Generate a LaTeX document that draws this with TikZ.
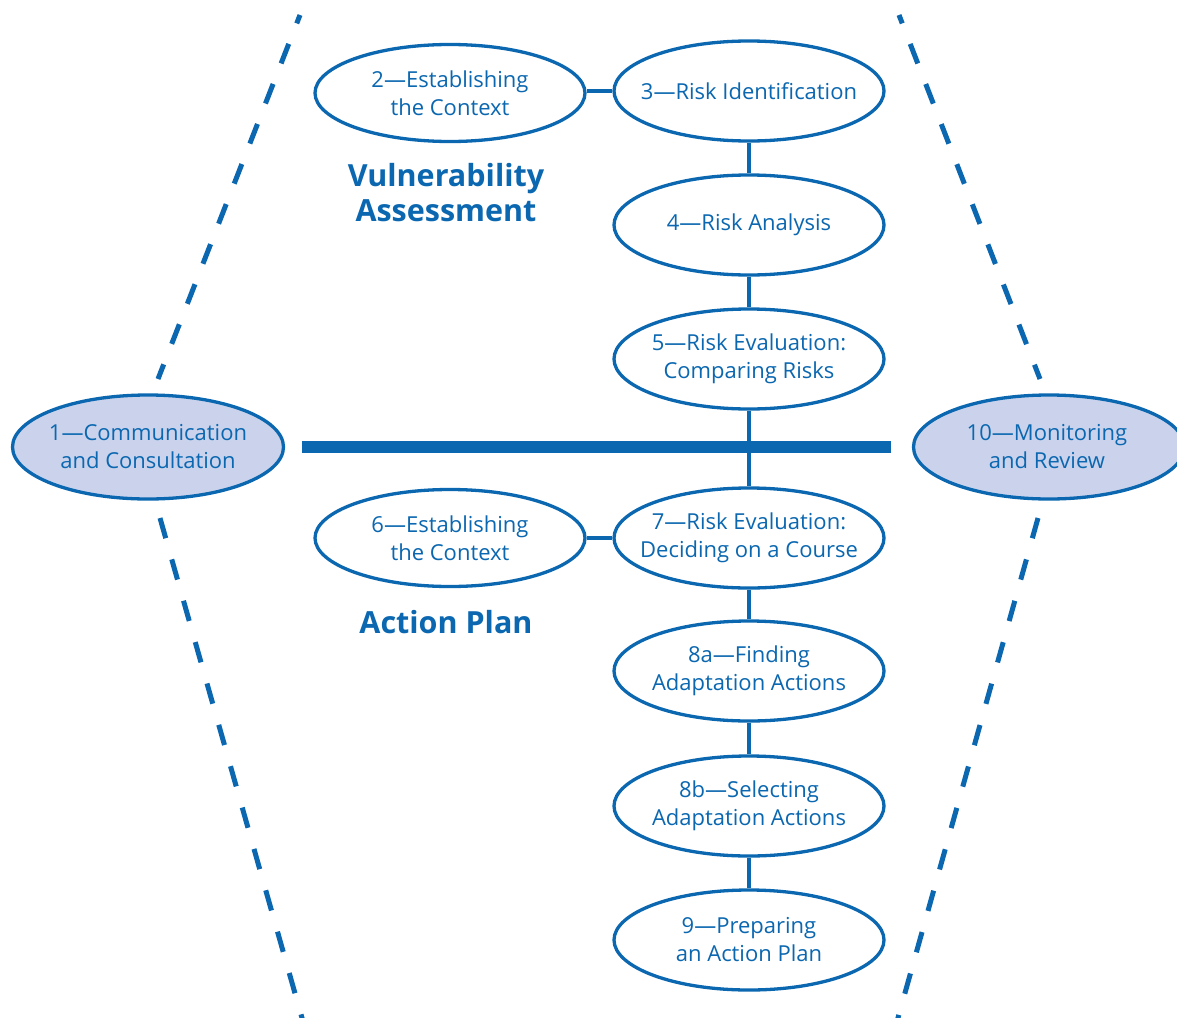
\documentclass[tikz,border=0pt]{standalone}
\usepackage{fontspec}
\setmainfont{Open Sans}
\usetikzlibrary{shapes.geometric}
\definecolor{cblue}{HTML}{0A67B0}
\definecolor{clav}{HTML}{CBD3EC}
\tikzset{
  stepell/.style={ellipse, draw=cblue, line width=3.3pt, fill=white,
    minimum width=270, minimum height=100, inner sep=0pt},
  keyell/.style={stepell, fill=clav},
  txt/.style={text=cblue, font=\fontsize{22}{28}\selectfont, align=center, inner sep=0pt},
  ttl/.style={text=cblue, font=\bfseries\fontsize{30.5}{35}\selectfont, align=center, inner sep=0pt},
  link/.style={draw=cblue, line width=3.3pt},
  bar/.style={draw=cblue, line width=12pt},
  dashln/.style={draw=cblue, line width=5pt, dash pattern=on 21pt off 22pt},
}
\begin{document}
\begin{tikzpicture}[x=1pt,y=-1pt]
\useasboundingbox (0,0) rectangle (1177,1017);
\clip (0,0) rectangle (1177,1017);
% dashed boundaries
\coordinate (lt) at (300,15);
\coordinate (lm1) at (158,379);
\coordinate (lm2) at (160,518);
\coordinate (lb) at (304,1025);
\coordinate (rt) at (899,15);
\coordinate (rm1) at (1040,379);
\coordinate (rm2) at (1038,518);
\coordinate (rb) at (896,1025);
\draw[dashln, dash phase=12pt] (lt) -- (lm1);
\draw[dashln] (lm2) -- (lb);
\draw[dashln, dash phase=12pt] (rt) -- (rm1);
\draw[dashln] (rm2) -- (rb);
% bar
\coordinate (barL) at (302,447);
\coordinate (barR) at (891,447);
\draw[bar] (barL) -- (barR);
% nodes
\node[stepell, minimum height=97] (e2) at (450,93) {};
\node[txt] at (e2) {2—Establishing\\the Context};
\node[stepell] (e3) at (749,91) {};
\node[txt] at (e3) {3—Risk Identification};
\node[stepell] (e4) at (749,225) {};
\node[txt] at (e4) {4—Risk Analysis};
\node[stepell] (e5) at (749,359) {};
\node[txt] at (e5) {5—Risk Evaluation:\\Comparing Risks};
\node[keyell, minimum width=271, minimum height=104] (e1) at (148,447) {};
\node[txt] at (e1) {1—Communication\\and Consultation};
\node[keyell, minimum width=271, minimum height=104] (e10) at (1049,447) {};
\node[txt] at (1047,447) {10—Monitoring\\and Review};
\node[stepell, minimum height=97] (e6) at (450,538) {};
\node[txt] at (e6) {6—Establishing\\the Context};
\node[stepell] (e7) at (749,538) {};
\node[txt] at (e7) {7—Risk Evaluation:\\Deciding on a Course};
\node[stepell] (e8a) at (749,671) {};
\node[txt] at (e8a) {8a—Finding\\Adaptation Actions};
\node[stepell] (e8b) at (749,806) {};
\node[txt] at (e8b) {8b—Selecting\\Adaptation Actions};
\node[stepell] (e9) at (749,940) {};
\node[txt] at (e9) {9—Preparing\\an Action Plan};
% connectors
\draw[link] (e2.east |- e3.west) -- (e3.west);
\draw[link] (e6.east) -- (e7.west);
\draw[link] (e3.south) -- (e4.north);
\draw[link] (e4.south) -- (e5.north);
\draw[link] (e5.south) -- (e7.north);
\draw[link] (e7.south) -- (e8a.north);
\draw[link] (e8a.south) -- (e8b.north);
\draw[link] (e8b.south) -- (e9.north);
% titles
\node[ttl] (va) at (446,193) {Vulnerability\\Assessment};
\node[ttl] (ap) at (446,622) {Action Plan};
\end{tikzpicture}
\end{document}
